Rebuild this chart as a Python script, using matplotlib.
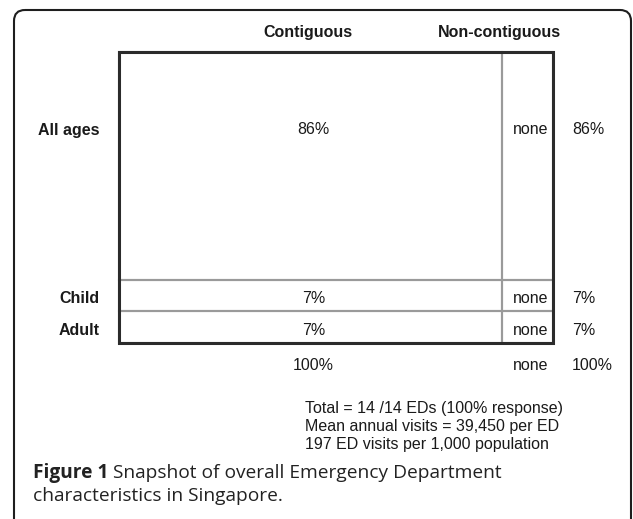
import matplotlib.pyplot as plt
import numpy as np
from matplotlib.patches import Rectangle, FancyBboxPatch

# data
col_names = ["Contiguous", "Non-contiguous"]
row_names = ["All ages", "Child", "Adult"]
row_pct = [86, 7, 7]
col_pct = [100, 0]
cell_pct = [[86, 0], [7, 0], [7, 0]]
notes = [
    "Total = 14 /14 EDs (100% response)",
    "Mean annual visits = 39,450 per ED",
    "197 ED visits per 1,000 population",
]
caption_bold = "Figure 1"
caption_rest = " Snapshot of overall Emergency Department"
caption_line2 = "characteristics in Singapore."


def fmt(v):
    return "none" if v == 0 else str(v) + "%"


W, H = 633, 519
fig = plt.figure(figsize=(W / 100, H / 100), dpi=100)
ax = fig.add_axes([0, 0, 1, 1])
ax.set_xlim(0, W)
ax.set_ylim(H, 0)
ax.axis("off")

font = "Liberation Sans"
fs = 11.5
tc = "#1a1a1a"

# outer frame (runs off the bottom)
frame = FancyBboxPatch((14, 10), 617, 540, boxstyle="round,pad=0,rounding_size=11",
                       fill=False, ec="#1e1e1e", lw=1.5)
ax.add_patch(frame)

# mosaic box extent
bx0, by0, bw, bh = 119, 52, 434, 291

# display sizes: shares with a floor so empty/small cells stay visible
rw = np.maximum(np.array(row_pct) / 100, 0.12)
rw = rw / rw.sum()
cw = np.maximum(np.array(col_pct) / 100, 0.134)
cw = cw / cw.sum()
row_top = by0 + bh * np.concatenate([[0], np.cumsum(rw)[:-1]])
row_h = bh * rw
col_left = bx0 + bw * np.concatenate([[0], np.cumsum(cw)[:-1]])
col_w = bw * cw

for i in range(len(row_names)):
    for j in range(len(col_names)):
        ax.add_patch(Rectangle((col_left[j], row_top[i]), col_w[j], row_h[i],
                               fill=False, ec="#9a9a9a", lw=1.5))
ax.add_patch(Rectangle((bx0, by0), bw, bh, fill=False, ec="#2b2b2b", lw=2.2))

# column headers
for j, name in enumerate(col_names):
    xc = col_left[j] + col_w[j] / 2
    if j == len(col_names) - 1:
        xc = col_left[j]
    ax.text(xc - 2, 33, name, ha="center", va="center", fontsize=fs,
            fontweight="bold", family=font, color=tc)

# rows
for i, name in enumerate(row_names):
    yc = row_top[i] + min(row_h[i] / 2, 75) + 3
    ax.text(100, yc, name, ha="right", va="center", fontsize=fs,
            fontweight="bold", family=font, color=tc)
    for j in range(len(col_names)):
        xc = col_left[j] + col_w[j] / 2
        ax.text(xc + 3, yc, fmt(cell_pct[i][j]), ha="center", va="center",
                fontsize=fs, family=font, color=tc)
    ax.text(572, yc, fmt(row_pct[i]), ha="left", va="center", fontsize=fs,
            family=font, color=tc)

# column totals
yt = by0 + bh + 22
for j in range(len(col_names)):
    xc = col_left[j] + col_w[j] / 2
    ax.text(xc + 3, yt, fmt(col_pct[j]), ha="center", va="center", fontsize=fs,
            family=font, color=tc)
ax.text(572, yt, fmt(sum(row_pct)), ha="left", va="center", fontsize=fs,
        family=font, color=tc)

# notes
for k, line in enumerate(notes):
    ax.text(305, 408 + 18 * k, line, ha="left", va="center", fontsize=fs,
            family=font, color=tc)

# caption
cap_font = "Open Sans"
cfs = 13.8
cy = 473
t = ax.text(33, cy, caption_bold, ha="left", va="center", fontsize=cfs,
            fontweight="bold", family=cap_font, color="#222222")
fig.canvas.draw()
bb = t.get_window_extent()
x_end = ax.transData.inverted().transform((bb.x1, bb.y0))[0]
ax.text(x_end, cy, caption_rest, ha="left", va="center", fontsize=cfs,
        family=cap_font, color="#222222")
ax.text(33, cy + 23, caption_line2, ha="left", va="center", fontsize=cfs,
        family=cap_font, color="#222222")

fig.savefig("out.png", dpi=100)
